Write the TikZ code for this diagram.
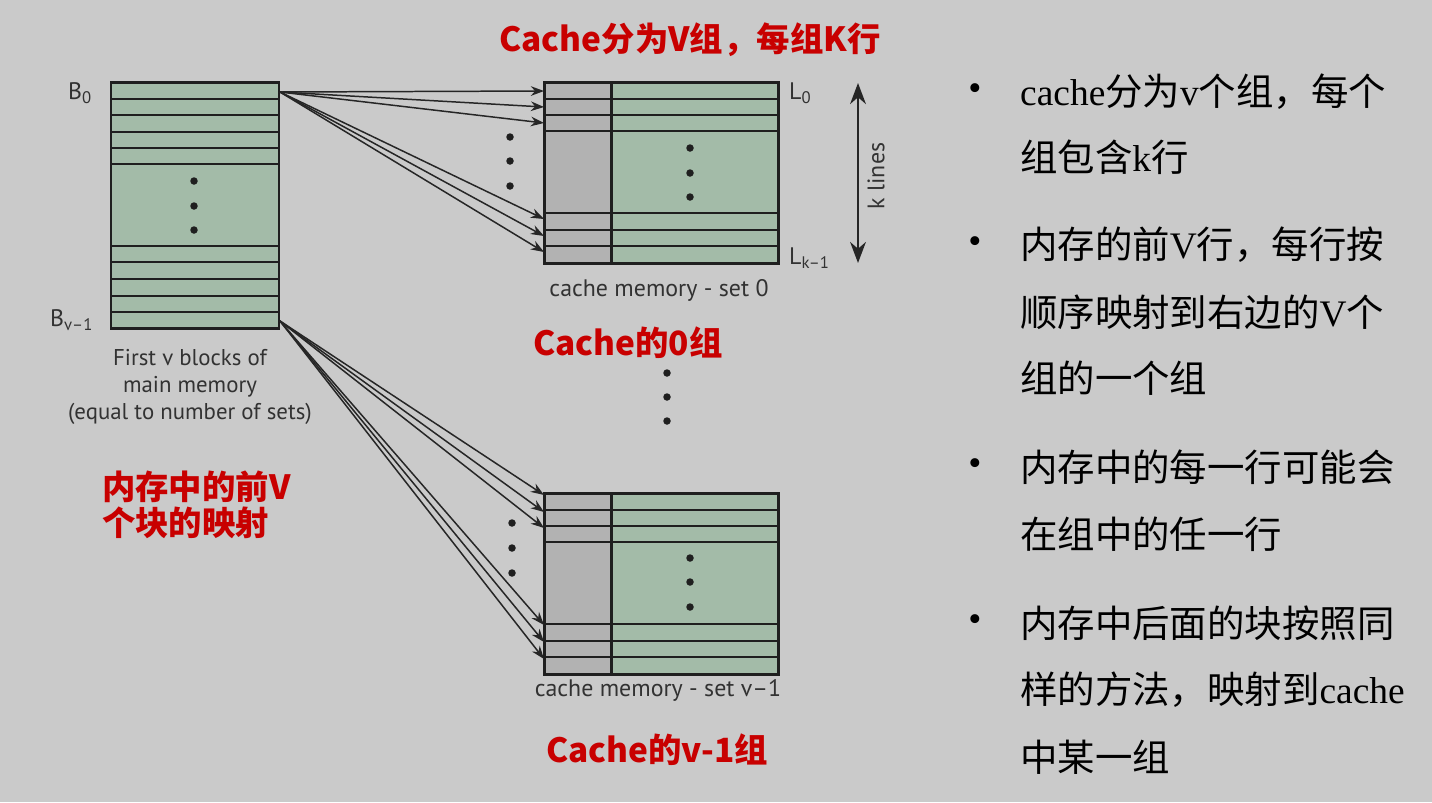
\documentclass[tikz,border=0pt]{standalone}
\usepackage{fontspec}
\setmainfont{Liberation Serif}
\setsansfont{PT Sans}
\newfontfamily\cjk{Noto Sans CJK SC}
\usetikzlibrary{positioning, arrows.meta}
\definecolor{slidebg}{RGB}{202,202,202}
\definecolor{linefill}{RGB}{163,187,168}
\definecolor{tagfill}{RGB}{178,178,178}
\definecolor{labred}{RGB}{200,0,0}
\definecolor{labgray}{RGB}{50,50,50}
\newcommand{\lat}[1]{{\rmfamily #1}}

\begin{document}
\begin{tikzpicture}[x=0.02cm, y=-0.02cm,
    boxline/.style={draw=black!88, line width=1.7pt},
    rowline/.style={draw=black!88, line width=1.1pt},
    maparrow/.style={-{Stealth[length=7.5pt,width=5.5pt]}, draw=black!85, line width=0.85pt},
    graylab/.style={text=labgray, font=\sffamily\fontsize{13.6}{15.3}\selectfont},
    redlab/.style={text=labred, font=\cjk\bfseries\fontsize{19}{20.4}\selectfont},
    notelab/.style={anchor=west, font=\cjk\fontsize{21.3}{26}\selectfont},
    bulletdot/.style={font=\fontsize{21.3}{26}\selectfont}]
    \useasboundingbox (0,0) rectangle (1432,802);
    \fill[slidebg] (0,0) rectangle (1432,802);

    % main memory, first v blocks
    \fill[linefill] (111,82) rectangle (279,328);
    \foreach \y in {99,115,132,148,164,246,262,279,296,312}
        \draw[rowline] (111,\y) -- (279,\y);
    \draw[boxline] (111,82) rectangle (279,328);
    \coordinate (memtop) at (280,92);
    \coordinate (membot) at (280,321);

    % the two cache sets
    \foreach \dy in {0,411} {
        \begin{scope}[shift={(0,\dy)}]
            \fill[tagfill] (544,82) rectangle (611,263);
            \fill[linefill] (611,82) rectangle (778,263);
            \foreach \y in {99,115,131,213,230,246}
                \draw[rowline] (544,\y) -- (778,\y);
            \draw[boxline] (544,82) rectangle (778,263);
            \draw[boxline] (611,82) -- (611,263);
        \end{scope}
    }
    \foreach \y [count=\i] in {91,107,123,219,236,252}
        \coordinate (setA\i) at (544,\y);
    \foreach \y [count=\i] in {495,512,528,625,642,659}
        \coordinate (setB\i) at (544,\y);

    \foreach \i in {1,...,6} {
        \draw[maparrow] (memtop) -- (setA\i);
        \draw[maparrow] (membot) -- (setB\i);
    }

    % vertical dots
    \foreach \x/\y in {194/181, 194/206, 194/230,
                       690/148, 690/173, 690/197,
                       690/558, 690/582, 690/607,
                       510/137, 510/161, 510/186,
                       512/523, 512/548, 512/573,
                       667/373, 667/397, 667/421}
        \fill[black!88] (\x,\y) circle [radius=0.75mm];

    % k lines
    \coordinate (ktop) at (858,83);
    \coordinate (kbot) at (858,263);
    \draw[{Stealth[length=12pt,width=9pt]}-{Stealth[length=12pt,width=9pt]}, draw=black!85, line width=1.2pt] (ktop) -- (kbot);
    \node[graylab, rotate=90] (klines) at (876,176) {k lines};

    \node[graylab, anchor=west] (bzero) at (62,93) {B\textsubscript{0}};
    \node[graylab, anchor=west] (blast) at (44,320) {B\textsubscript{v--1}};
    \node[graylab, anchor=west] (lzero) at (783,93) {L\textsubscript{0}};
    \node[graylab, anchor=west] (llast) at (783,258) {L\textsubscript{k--1}};

    \node[graylab, align=center, font=\sffamily\fontsize{13}{15.3}\selectfont] (memcap) at (190,387) {First v blocks of\\main memory\\(equal to number of sets)};
    \node[graylab] (capA) at (659,290) {cache memory - set 0};
    \node[graylab] (capB) at (658,690) {cache memory - set v--1};

    % red notes
    \node[redlab] (title) at (690,40) {Cache分为V组，每组K行};
    \node[redlab] (setAred) at (628,343) {Cache的0组};
    \node[redlab] (setBred) at (657,750) {Cache的v-1组};
    \node[redlab, anchor=west, align=left] (memred) at (96,505) {内存中的前V\\个块的映射};

    % bullet list
    \foreach \y in {92,245,467,623}
        \node[bulletdot] at (975,\y) {\textbullet};
    \node[notelab] (noteA1) at (1014,92) {\lat{cache}分为\lat{v}个组，每个};
    \node[notelab] (noteA2) at (1014,157) {组包含\lat{k}行};
    \node[notelab] (noteB1) at (1014,245) {内存的前\lat{V}行，每行按};
    \node[notelab] (noteB2) at (1014,312) {顺序映射到右边的\lat{V}个};
    \node[notelab] (noteB3) at (1014,378) {组的一个组};
    \node[notelab] (noteC1) at (1014,467) {内存中的每一行可能会};
    \node[notelab] (noteC2) at (1014,534) {在组中的任一行};
    \node[notelab] (noteD1) at (1014,623) {内存中后面的块按照同};
    \node[notelab] (noteD2) at (1014,690) {样的方法，映射到\lat{cache}};
    \node[notelab] (noteD3) at (1014,757) {中某一组};
\end{tikzpicture}
\end{document}
